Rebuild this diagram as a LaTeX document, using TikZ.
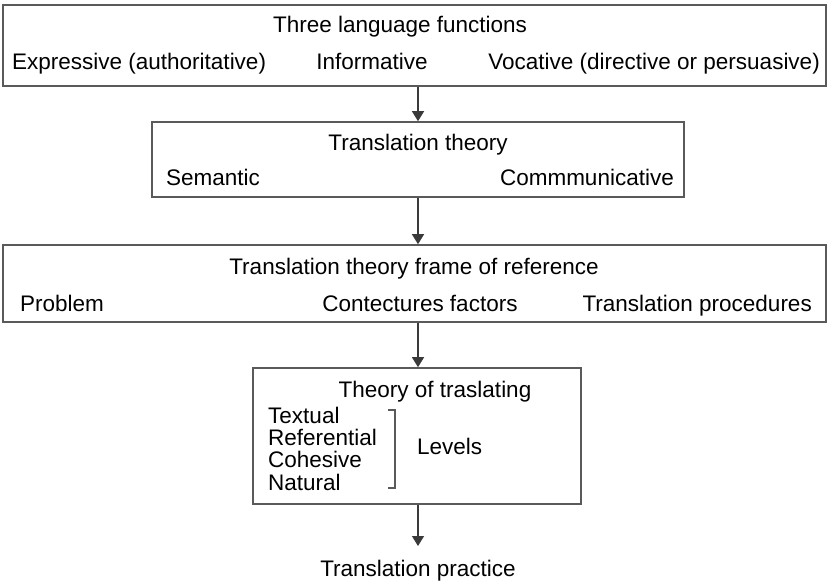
\documentclass[tikz,border=0pt]{standalone}
\usepackage{fontspec}
\setmainfont{Liberation Sans}
\usetikzlibrary{arrows.meta}
\definecolor{framegray}{HTML}{5A5A5A}
\definecolor{linegray}{HTML}{3A3A3A}
\begin{document}
\begin{tikzpicture}
			[x=1pt,y=-1pt,
			every node/.style={inner sep=0pt,anchor=base,font=\fontsize{22.5}{22.3}\selectfont},
			frame/.style={draw=framegray,line width=1.6pt,minimum width=#1},
			arr/.style={-{Triangle[length=10pt,width=12pt]},draw=linegray,line width=1.4pt}]
			\useasboundingbox (0,0) rectangle (829,585);
			% frames
			\node[frame=823pt,minimum height=81pt,anchor=center] (fn) at (414.5,45.5) {};
			\node[frame=532pt,minimum height=75pt,anchor=center] (thy) at (418,159.5) {};
			\node[frame=823pt,minimum height=77pt,anchor=center] (ref) at (414.5,283.5) {};
			\node[frame=328pt,minimum height=136pt,anchor=center] (lev) at (417,436) {};
			% texts
			\node (fnT) at (400,33) {Three language functions};
			\node[anchor=base west] (fnA) at (12,70) {Expressive (authoritative)};
			\node (fnB) at (372,70) {Informative};
			\node[anchor=base east] (fnC) at (820,70) {Vocative (directive or persuasive)};
			\node (thyT) at (418,151) {Translation theory};
			\node[anchor=base west] (thyA) at (166,186) {Semantic};
			\node[anchor=base east] (thyB) at (674,186) {Commmunicative};
			\node (refT) at (414,274) {Translation theory frame of reference};
			\node[anchor=base west] (refA) at (20,311) {Problem};
			\node (refB) at (420,311) {Contectures factors};
			\node[anchor=base east] (refC) at (812,311) {Translation procedures};
			\node (levT) at (435,397) {Theory of traslating};
			\node[anchor=base west,align=left] (levA) at (268,490) {Textual\\Referential\\Cohesive\\Natural};
			\node[anchor=base west] (levB) at (417,454) {Levels};
			\node (prac) at (418,576) {Translation practice};
			% bracket
			\coordinate (bt) at (388,410);
			\coordinate (bb) at (388,488);
			\draw[draw=framegray,line width=1.4pt] (bt) -- ([xshift=7pt]bt) -- ([xshift=7pt]bb) -- (bb);
			% arrows
			\coordinate (pt) at (418,546);
			\draw[arr] (thy.north |- fn.south) -- (thy.north);
			\draw[arr] (thy.south) -- (thy.south |- ref.north);
			\draw[arr] (pt |- ref.south) -- (pt |- lev.north);
			\draw[arr] (pt |- lev.south) -- (pt);
		\end{tikzpicture}
\end{document}
